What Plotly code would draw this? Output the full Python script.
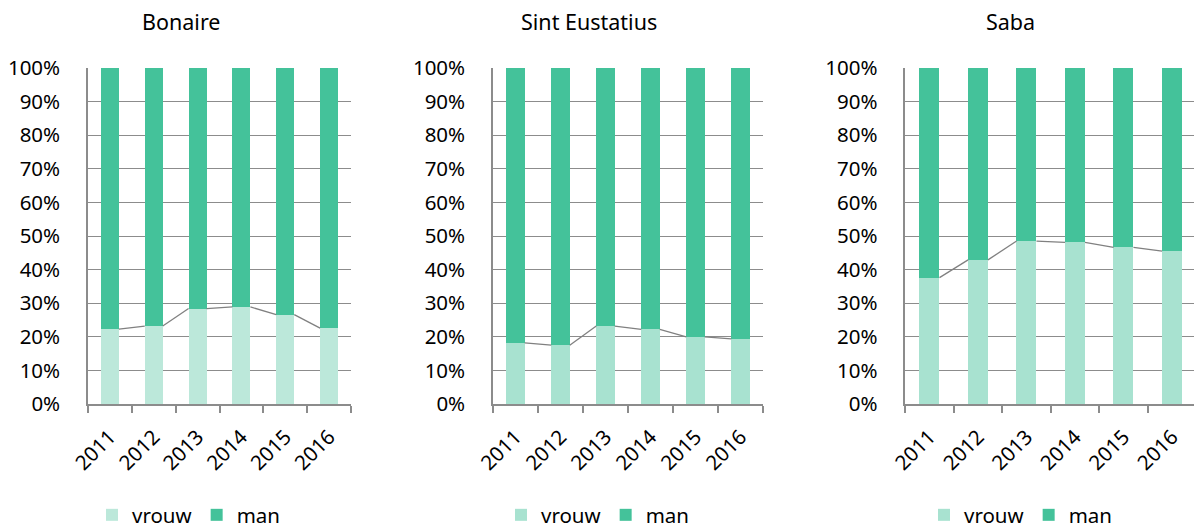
import plotly.graph_objects as go

years = ["2011", "2012", "2013", "2014", "2015", "2016"]
islands = ["Bonaire", "Sint Eustatius", "Saba"]
bonaire_vrouw = [0.223, 0.232, 0.284, 0.289, 0.266, 0.226]
eustatius_vrouw = [0.182, 0.175, 0.232, 0.222, 0.200, 0.194]
saba_vrouw = [0.376, 0.429, 0.485, 0.481, 0.466, 0.455]
vrouw_series = [bonaire_vrouw, eustatius_vrouw, saba_vrouw]

W, H = 1194, 529
FONT = "Noto Sans"
TXT = "#000000"
GRID = "#8c8c8c"
MAN_COLOR = "#44c29a"
VROUW_COLORS = ["#bce8da", "#a8e2d0", "#a8e2d0"]
BAR_W = 0.41

# panel geometry in pixels
plot_x = [(88, 351), (493, 763), (905.3, 1194)]
x_ranges = [[-0.5, 5.5], [-0.5, 5.5], [-0.5, 5.453]]
title_cx = [181, 589, 1011]
legend_x = [92, 501, 924]
y_dom = [1 - 404 / H, 1 - 68 / H]

fig = go.Figure()
xs = list(range(len(years)))

for p, (name, vrouw) in enumerate(zip(islands, vrouw_series)):
    sfx = "" if p == 0 else str(p + 1)
    xa, ya = "x" + sfx, "y" + sfx
    leg = "legend" + sfx
    man = [1 - v for v in vrouw]
    fig.add_trace(go.Bar(x=xs, y=vrouw, name="vrouw", marker_color=VROUW_COLORS[p],
                         width=BAR_W, xaxis=xa, yaxis=ya, legend=leg,
                         hovertext=years, marker_line_width=0))
    fig.add_trace(go.Bar(x=xs, y=man, name="man", marker_color=MAN_COLOR,
                         width=BAR_W, xaxis=xa, yaxis=ya, legend=leg,
                         hovertext=years, marker_line_width=0))
    # series lines connecting tops of the vrouw segments (bar edge to bar edge)
    lx, ly = [], []
    for i in range(len(years) - 1):
        lx += [xs[i] + BAR_W / 2, xs[i + 1] - BAR_W / 2, None]
        ly += [vrouw[i], vrouw[i + 1], None]
    fig.add_trace(go.Scatter(x=lx, y=ly, mode="lines", line=dict(color="#808080", width=1.3),
                             xaxis=xa, yaxis=ya, showlegend=False, hoverinfo="skip"))

    x0, x1 = plot_x[p]
    fig.layout["xaxis" + sfx] = dict(
        domain=[x0 / W, x1 / W], range=x_ranges[p], anchor=ya,
        tickmode="array", tickvals=xs, ticktext=years, ticks="",
        tickangle=-45, ticklabelstandoff=11,
        tickfont=dict(family=FONT, size=20.5, color=TXT),
        showgrid=False, zeroline=False, showline=True, linecolor=GRID, linewidth=1.5,
        minor=dict(tickmode="linear", tick0=-0.5, dtick=1, ticks="outside",
                   ticklen=7, tickcolor=GRID, tickwidth=1.5, showgrid=False),
        fixedrange=True,
    )
    fig.layout["yaxis" + sfx] = dict(
        domain=y_dom, range=[0, 1], anchor=xa, tickmode="linear", tick0=0, dtick=0.1,
        tickformat=".0%", ticks="", ticklabelstandoff=22,
        tickfont=dict(family=FONT, size=20.5, color=TXT),
        showgrid=True, gridcolor=GRID, gridwidth=1.3, zeroline=False,
        showline=True, linecolor=GRID, linewidth=1.5, fixedrange=True,
    )
    fig.layout[leg] = dict(
        orientation="h", x=legend_x[p] / W, xanchor="left", y=1 - 495 / H, yanchor="top",
        font=dict(family=FONT, size=20.5, color=TXT), bgcolor="rgba(0,0,0,0)",
        traceorder="normal", itemclick=False, itemdoubleclick=False,
    )
    fig.add_annotation(text=name, x=title_cx[p] / W, y=1 - 22 / H, xref="paper", yref="paper",
                       xanchor="center", yanchor="middle", showarrow=False,
                       font=dict(family=FONT, size=21.5, color=TXT))

fig.update_layout(
    width=W, height=H, barmode="stack", bargap=0,
    margin=dict(l=0, r=0, t=0, b=0, autoexpand=False),
    paper_bgcolor="white", plot_bgcolor="white",
    font=dict(family=FONT, size=20, color=TXT),
)

fig.write_html("out.html", config={"displayModeBar": False},
               post_script="document.body.style.margin='0';document.body.style.overflow='hidden';")
